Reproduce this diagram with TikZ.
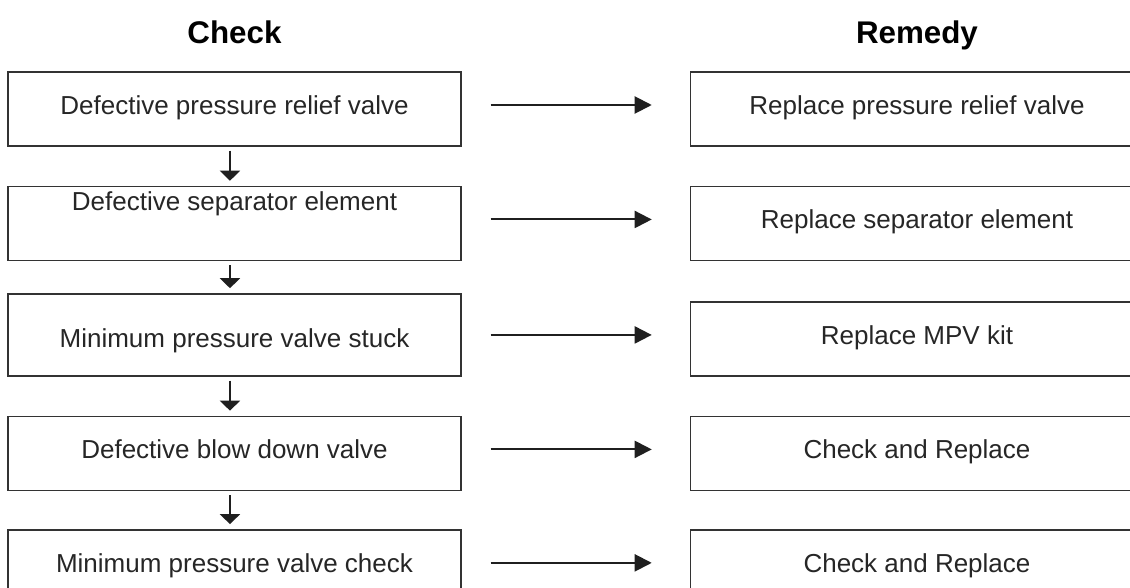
\documentclass[tikz,border=0pt]{standalone}
\usepackage{fontspec}
\setmainfont{Liberation Sans}
\usepackage{tikz}
\usetikzlibrary{arrows.meta,positioning}

\begin{document}
\begin{tikzpicture}[
  x=0.75pt, y=-0.75pt,
  node distance=29.25pt and 171pt,
  box/.style={draw=black!80, line width=1.1pt, minimum width=339.75pt, minimum height=55.5pt, inner sep=0pt, font=\fontsize{19.5}{23}\selectfont, text=black!85, text height=13.65pt, text depth=5.85pt},
  head/.style={inner sep=0pt, text depth=0pt, font=\fontsize{23.5}{28}\selectfont\bfseries},
  down/.style={-{Triangle[length=7.5pt,width=15pt]}, line width=1.5pt, black!88, shorten <=3pt, shorten >=3.75pt},
  across/.style={-{Triangle[length=12.75pt,width=12.75pt]}, line width=1.5pt, black!88, shorten <=21.75pt, shorten >=28.5pt}
]
\useasboundingbox (0,0) rectangle (1130,588);
\clip (0,0) rectangle (1130,588);
% check column
\node[box] (c1) at (234.5,109) {Defective pressure relief valve};
\node[box, below=of c1, text depth=32.8pt] (c2) {Defective separator element};
\node[box, below=24pt of c2, minimum height=61.5pt, text height=24.4pt] (c3) {Minimum pressure valve stuck};
\node[box, below=of c3] (c4) {Defective blow down valve};
\node[box, below=28.5pt of c4] (c5) {Minimum pressure valve check};
% remedy column
\node[box, right=of c1] (r1) {Replace pressure relief valve};
\node[box, right=of c2] (r2) {Replace separator element};
\node[box, right=of c3, yshift=-3pt] (r3) {Replace MPV kit};
\node[box, right=of c4] (r4) {Check and Replace};
\node[box, right=of c5] (r5) {Check and Replace};
% headings
\node[head, above=20.25pt of c1] (hcheck) {Check};
\node[head, above=20.25pt of r1] (hremedy) {Remedy};
% arrows
\draw[down] ([xshift=-3.4pt]c1.south) -- ([xshift=-3.4pt]c2.north);
\draw[down] ([xshift=-3.4pt]c2.south) -- ([xshift=-3.4pt]c3.north);
\draw[down] ([xshift=-3.4pt]c3.south) -- ([xshift=-3.4pt]c4.north);
\draw[down] ([xshift=-3.4pt]c4.south) -- ([xshift=-3.4pt]c5.north);
\draw[across] ([yshift=3pt]c1.east) -- ([yshift=3pt]r1.west);
\draw[across] ([yshift=3pt]c2.east) -- ([yshift=3pt]r2.west);
\draw[across] (c3.east) -- (c3.east -| r3.west);
\draw[across] ([yshift=3pt]c4.east) -- ([yshift=3pt]r4.west);
\draw[across] ([yshift=3pt]c5.east) -- ([yshift=3pt]r5.west);
\end{tikzpicture}
\end{document}
